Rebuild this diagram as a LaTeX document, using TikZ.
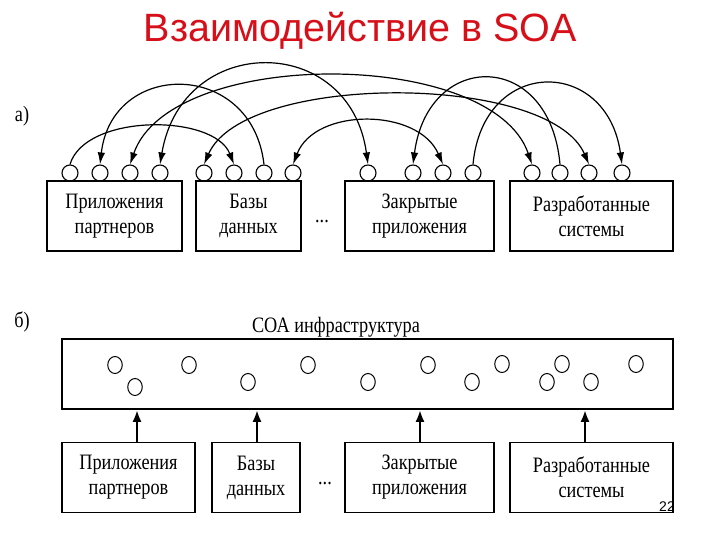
\documentclass[tikz,border=0pt]{standalone}
\usepackage{fontspec}
\setmainfont{Liberation Serif}
\newfontfamily\titlefont{Liberation Sans}
\newfontfamily\condfont[FakeStretch=0.83]{Liberation Serif}
\usetikzlibrary{arrows.meta,shapes.geometric}
\definecolor{titlered}{RGB}{215,15,25}
\begin{document}
\begin{tikzpicture}[x=1pt,y=-1pt,
  box/.style={draw, line width=1.7pt, minimum height=70pt, inner sep=0pt,
    font=\condfont\fontsize{22}{25}\selectfont, align=center},
  port/.style={circle, draw, line width=1.1pt, minimum size=16pt, inner sep=0pt},
  svc/.style={ellipse, draw, line width=1pt, minimum width=14.5pt, minimum height=17pt, inner sep=0pt},
  lbl/.style={font=\condfont\fontsize{22}{25}\selectfont, inner sep=0pt},
  arcline/.style={line width=1.2pt},
  tipend/.style={arcline, -{Latex[length=12pt,width=7.5pt]}},
  tipboth/.style={arcline, {Latex[length=12pt,width=7.5pt]}-{Latex[length=12pt,width=7.5pt]}},
  uparr/.style={line width=2.4pt, -{Latex[length=12pt,width=9pt]}}
]
\useasboundingbox (0,0) rectangle (720,540);
\fill[white] (0,0) rectangle (720,540);

% title
\node[font=\titlefont\fontsize{39.5}{42}\selectfont, text=titlered, anchor=base, inner sep=0pt] (title) at (360.5,42) {Взаимодействие в SOA};

% section labels
\node[lbl, anchor=base] (la) at (22,122) {а)};
\node[lbl, anchor=base] (lb) at (22,327) {б)};

% ---- part a ----
\node[box, minimum width=135pt] (t1) at (114.5,216) {Приложения\\партнеров};
\node[box, minimum width=105pt] (t2) at (248.5,216) {Базы\\данных};
\node[box, minimum width=149pt] (t3) at (419.5,216) {Закрытые\\приложения};
\node[box, minimum width=163pt] (t4) at (591.5,216) {Разработанные\\системы};
\node[lbl] (tdots) at (322,222) {...};

\foreach \n/\x in {11/70,12/100,13/130,14/160,21/204,22/234,23/264,24/293,
                   31/368,32/413,33/443,34/473,41/532,42/560,43/589,44/622}
  \node[port] (c\n) at (\x,173) {};

% arcs
\draw[tipend]  (c11.north) .. controls +(15,-51)  and +(-20,-51)  .. (c22.north);
\draw[tipend]  (c23.north) .. controls +(-12,-105) and +(12,-105) .. (c12.north);
\draw[tipboth] (c14.north) .. controls +(22,-132) and +(-18,-132) .. (c31.north);
\draw[tipboth] (c13.north) .. controls +(40,-117) and +(-40,-117) .. (c41.north);
\draw[tipboth] (c21.north) .. controls +(40,-92)  and +(-40,-92)  .. (c43.north);
\draw[tipboth] (c24.north) .. controls +(22,-57)  and +(-25,-57)  .. (c33.north);
\draw[tipend]  (c34.north) .. controls +(10,-108) and +(-15,-108) .. (c44.north);
\draw[tipend]  (c42.north) .. controls +(-10,-115) and +(15,-115) .. (c32.north);

% ---- part b ----
\node[lbl, anchor=base] (infratitle) at (336,332) {СОА инфраструктура};
\node[draw, line width=1.7pt, minimum width=611pt, minimum height=70pt, inner sep=0pt] (infra) at (367.5,374) {};

\foreach \n/\x/\y in {1/115/365,2/135/387,3/189/365,4/248/382,5/308/365,6/368/382,
                      7/428/365,8/472/382,9/502/364,10/547/382,11/562/364,12/591/382,13/636/364}
  \node[svc] (s\n) at (\x,\y) {};

\node[box, minimum width=133pt] (b1) at (128.5,477.5) {Приложения\\партнеров};
\node[box, minimum width=88pt]  (b2) at (256,477.5) {Базы\\данных};
\node[box, minimum width=149pt] (b3) at (419.5,477.5) {Закрытые\\приложения};
\node[box, minimum width=163pt] (b4) at (591.5,477.5) {Разработанные\\системы};
\node[lbl] (bdots) at (325,484) {...};

\draw[uparr] ([xshift=8.5pt]b1.north) -- ([xshift=8.5pt]b1.north |- infra.south);
\draw[uparr] ([xshift=1pt]b2.north) -- ([xshift=1pt]b2.north |- infra.south);
\draw[uparr] ([xshift=0.5pt]b3.north) -- ([xshift=0.5pt]b3.north |- infra.south);
\draw[uparr] ([xshift=-6.5pt]b4.north) -- ([xshift=-6.5pt]b4.north |- infra.south);

\node[font=\titlefont\fontsize{14}{14}\selectfont, anchor=base, inner sep=0pt] (pnum) at (667,511) {22};
\end{tikzpicture}
\end{document}
